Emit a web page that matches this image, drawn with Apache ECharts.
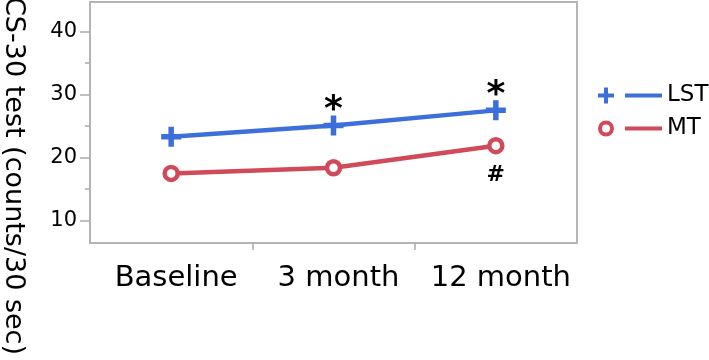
<!doctype html>
<html lang="en">
	<head>
		<meta charset="UTF-8">
		<title>CS-30 test</title>
		<script src="https://cdn.jsdelivr.net/npm/echarts@6/dist/echarts.min.js"></script>
		<style>
			html, body { margin: 0; padding: 0; background: #fff; }
		</style>
	</head>
	<body>
		<div id="chart" style="width: 709px; height: 360px;"></div>
		<script>
			// values
			const categories = ['Baseline', '3 month', '12 month']
			const lstValues = [23.3, 25.1, 27.5]
			const mtValues = [17.5, 18.4, 21.9]
			const lstMarks = ['', '*', '*']
			const mtMarks = ['', '', '#']
			const yTicks = [10, 20, 30, 40]
			const xTicks = [1, 2]
			const yName = 'CS-30 test (counts/30 sec)'

			const blue = '#3d6fdb'
			const red = '#d04a5a'
			const font = 'DejaVu Sans'

			// legend icons: marker on the left, short line on the right
			const lstIcon = 'path://M6,0h4v6h6v4h-6v6h-4v-6h-6v-4h6z M27,6h37v4h-37z'
			const mtIcon = 'path://M0,8a8,8 0 1,0 16,0a8,8 0 1,0 -16,0z M4,8a4,4 0 1,1 8,0a4,4 0 1,1 -8,0z M27,6h37v4h-37z'
			const crossSymbol = 'path://M7.25,0h5.5v7.25h7.25v5.5h-7.25v7.25h-5.5v-7.25h-7.25v-5.5h7.25z'

			let mCharts = echarts.init(document.getElementById('chart'))
			let option = {
				animation: false,
				grid: {
					left: 90,
					top: 2,
					width: 487,
					height: 241,
					show: true,
					borderColor: '#b4b4b4',
					borderWidth: 2,
					backgroundColor: '#fff'
				},
				xAxis: [{
					type: 'category',
					data: categories,
					position: 'bottom',
					boundaryGap: true,
					axisLine: { show: false },
					axisTick: { show: false },
					axisLabel: {
						interval: 0,
						fontSize: 29,
						color: '#000',
						margin: 21,
						padding: [0, 0, 0, 10],
						fontFamily: font
					}
				}, {
					// only carries the two inner tick marks
					type: 'value',
					min: 0,
					max: 3,
					position: 'bottom',
					axisLine: { show: false },
					axisLabel: { show: false },
					splitLine: { show: false },
					axisTick: {
						show: true,
						customValues: xTicks,
						length: 7,
						lineStyle: { color: '#aaa', width: 1.5 }
					}
				}],
				yAxis: {
					type: 'value',
					min: 6.45,
					max: 44.7,
					axisLine: { show: false },
					splitLine: { show: false },
					axisTick: {
						show: true,
						customValues: yTicks,
						length: 10,
						lineStyle: { color: '#aaa', width: 1.5 }
					},
					minorTick: {
						show: true,
						splitNumber: 2,
						length: 5,
						lineStyle: { color: '#aaa', width: 1.5 }
					},
					axisLabel: {
						customValues: yTicks,
						fontSize: 21,
						color: '#000',
						margin: 13,
						fontFamily: font
					}
				},
				legend: {
					orient: 'vertical',
					left: 598,
					top: 84,
					padding: 0,
					itemWidth: 64,
					itemHeight: 16,
					itemGap: 10,
					textStyle: { fontSize: 23, color: '#000', fontFamily: font },
					itemStyle: { borderWidth: 0 },
					data: [
						{ name: 'LST', icon: lstIcon, itemStyle: { color: blue } },
						{ name: 'MT', icon: mtIcon, itemStyle: { color: red } }
					]
				},
				graphic: [{
					type: 'text',
					x: 13,
					y: 176,
					rotation: -Math.PI / 2,
					style: {
						text: yName,
						fontSize: 27,
						fontFamily: font,
						fill: '#000',
						align: 'center',
						verticalAlign: 'middle'
					}
				}],
				series: [{
					name: 'LST',
					type: 'line',
					data: lstValues,
					symbol: crossSymbol,
					symbolSize: 20,
					itemStyle: { color: blue },
					lineStyle: { color: blue, width: 4.5 },
					label: {
						show: true,
						position: 'top',
						distance: 0,
						offset: [0, 13],
						fontSize: 36,
						fontWeight: 'bold',
						color: '#000',
						fontFamily: font,
						formatter: (arg) => lstMarks[arg.dataIndex]
					}
				}, {
					name: 'MT',
					type: 'line',
					data: mtValues,
					symbol: 'circle',
					symbolSize: 13,
					itemStyle: { color: '#fff', borderColor: red, borderWidth: 4.5 },
					lineStyle: { color: red, width: 4.5 },
					z: 3,
					label: {
						show: true,
						position: 'bottom',
						distance: 10,
						fontSize: 22,
						fontWeight: 'bold',
						color: '#000',
						fontFamily: font,
						formatter: (arg) => mtMarks[arg.dataIndex]
					}
				}]
			}
			mCharts.setOption(option)
		</script>
	</body>
</html>
